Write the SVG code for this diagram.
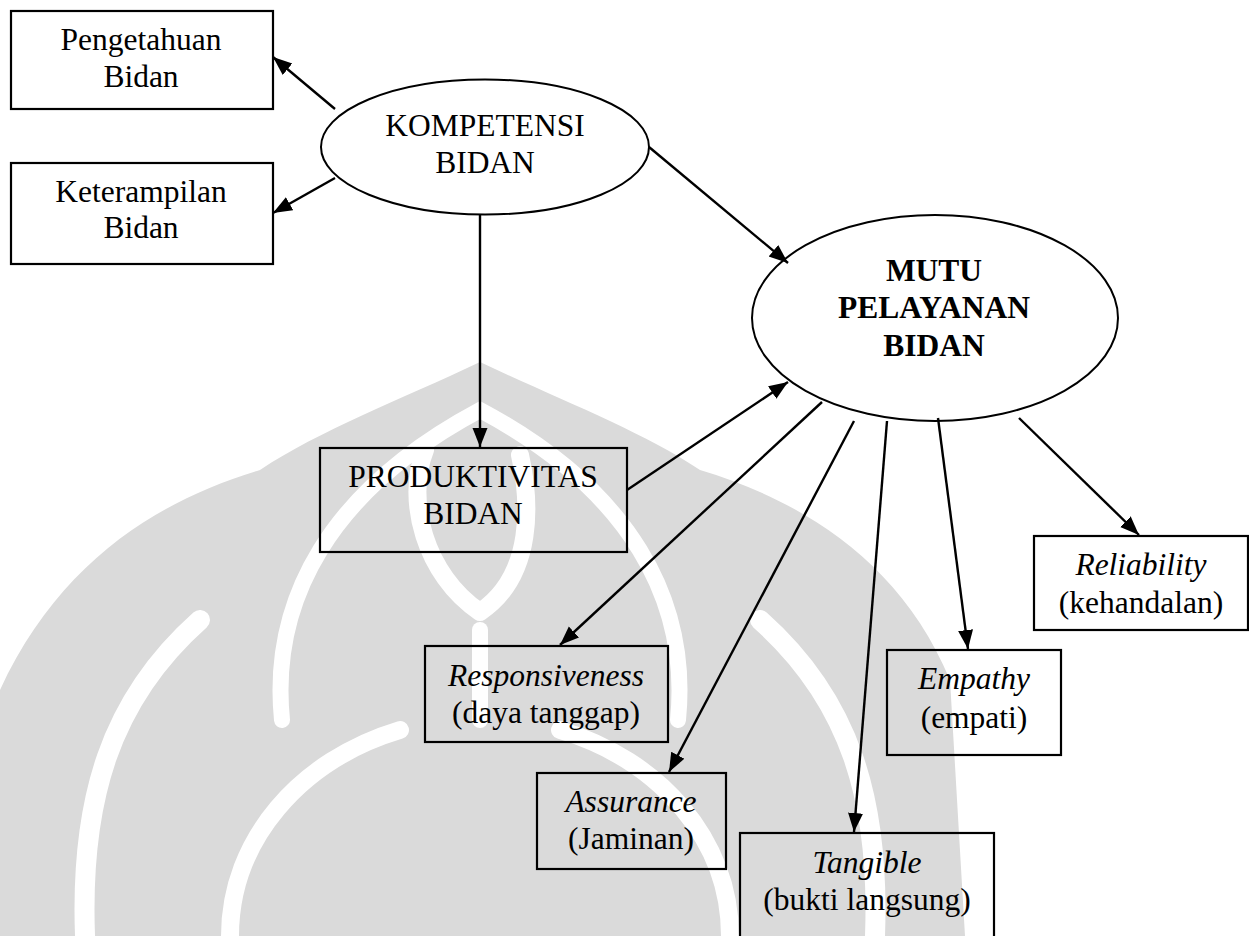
<svg xmlns="http://www.w3.org/2000/svg" width="1249" height="936" viewBox="0 0 1249 936">
<defs>
<style>
.box{fill:none;stroke:#000;stroke-width:2.2}
.ell{fill:none;stroke:#000;stroke-width:2}
.c{fill:none;stroke:#000;stroke-width:2.4;marker-end:url(#ah)}
.wm{fill:#dadada;stroke:none}
.wl{fill:none;stroke:#fff;stroke-linecap:round}
</style>
<marker id="ah" markerUnits="userSpaceOnUse" markerWidth="22" markerHeight="18" refX="19" refY="7.5" orient="auto">
<path d="M0,0 L19,7.5 L0,15 Z" fill="#000"/>
</marker>
</defs>
<rect width="1249" height="936" fill="#fff"/>
<g id="watermark">
<path class="wm" d="M480,362 C560,400 640,430 700,470 C800,500 900,560 950,680 L965,936 L0,936 L0,690 C60,560 160,500 260,470 C320,430 400,400 480,362 Z"/>
<path class="wl" stroke-width="16" d="M282,720 C270,600 330,490 480,410 C630,490 690,600 678,720"/>
<path class="wl" stroke-width="18" d="M480,612 C425,575 405,500 425,450 M480,612 C535,575 530,500 520,455"/>
<path class="wl" stroke-width="16" d="M480,630 L480,720"/>
<path class="wl" stroke-width="20" d="M85,936 C80,800 110,700 200,620 M875,936 C880,800 850,700 760,620"/>
<path class="wl" stroke-width="18" d="M230,936 C230,840 300,760 400,730 M730,936 C730,840 660,760 560,730"/>
</g>
<g id="connectors">
<line class="c" x1="335" y1="109" x2="273" y2="57"/>
<line class="c" x1="335" y1="178" x2="273" y2="213"/>
<line class="c" x1="480" y1="214" x2="480" y2="447"/>
<line class="c" x1="649" y1="147" x2="788" y2="263"/>
<line class="c" x1="627" y1="490" x2="788" y2="382"/>
<line class="c" x1="822" y1="402" x2="560" y2="645"/>
<line class="c" x1="854" y1="421" x2="669" y2="772"/>
<line class="c" x1="887" y1="421" x2="854" y2="832"/>
<line class="c" x1="938" y1="418" x2="968" y2="649"/>
<line class="c" x1="1019" y1="418" x2="1139" y2="535"/>
</g>
<g font-family="Liberation Serif, Tinos, Times New Roman, DejaVu Serif, serif" font-size="31.5" text-anchor="middle" fill="#000">
<g id="pengetahuan">
<rect class="box" x="11" y="11" width="262" height="98"/>
<text x="141" y="50">Pengetahuan</text>
<text x="141" y="87">Bidan</text>
</g>
<g id="keterampilan">
<rect class="box" x="11" y="163" width="262" height="101"/>
<text x="141" y="202">Keterampilan</text>
<text x="141" y="238">Bidan</text>
</g>
<g id="kompetensi">
<ellipse class="ell" cx="485" cy="147" rx="164" ry="67.5"/>
<text x="485" y="136">KOMPETENSI</text>
<text x="485" y="173">BIDAN</text>
</g>
<g id="produktivitas">
<rect class="box" x="320" y="448" width="307" height="104"/>
<text x="473" y="487">PRODUKTIVITAS</text>
<text x="473" y="524">BIDAN</text>
</g>
<g id="mutu" font-weight="bold">
<ellipse class="ell" cx="935" cy="318" rx="183" ry="103"/>
<text x="934" y="281">MUTU</text>
<text x="934" y="318">PELAYANAN</text>
<text x="934" y="356">BIDAN</text>
</g>
<g id="reliability">
<rect class="box" x="1034" y="536" width="214" height="94"/>
<text x="1141" y="575" font-style="italic">Reliability</text>
<text x="1141" y="613">(kehandalan)</text>
</g>
<g id="responsiveness">
<rect class="box" x="425" y="646" width="243" height="96"/>
<text x="546" y="686" font-style="italic">Responsiveness</text>
<text x="546" y="723">(daya tanggap)</text>
</g>
<g id="empathy">
<rect class="box" x="887" y="650" width="174" height="105"/>
<text x="974" y="689" font-style="italic">Empathy</text>
<text x="974" y="728">(empati)</text>
</g>
<g id="assurance">
<rect class="box" x="537" y="773" width="189" height="96"/>
<text x="631" y="812" font-style="italic">Assurance</text>
<text x="631" y="849">(Jaminan)</text>
</g>
<g id="tangible">
<rect class="box" x="740" y="833" width="254" height="110"/>
<text x="867" y="873" font-style="italic">Tangible</text>
<text x="867" y="910">(bukti langsung)</text>
</g>
</g>
</svg>
